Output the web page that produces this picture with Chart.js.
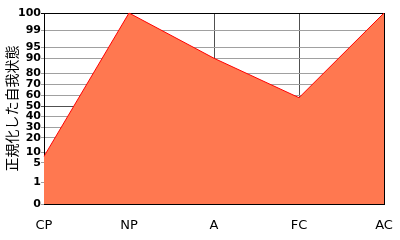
<!DOCTYPE html>
<html>
<head>
<meta charset="utf-8">
<script src="https://cdn.jsdelivr.net/npm/chart.js@4.4.1/dist/chart.umd.min.js"></script>
<style>
  html, body { margin: 0; padding: 0; background: #fff; }
  #wrap { width: 400px; height: 240px; }
</style>
</head>
<body>
<div id="wrap"><canvas id="egoChart"></canvas></div>
<script>
const categories = ['CP', 'NP', 'A', 'FC', 'AC'];
const egoValues = [8, 100, 90, 58, 100];
const tickValues = [0, 1, 5, 10, 20, 30, 40, 50, 60, 70, 80, 90, 95, 99, 100];
const tickLabels = ['0', '1', '5', '10', '20', '30', '40', '50', '60', '70', '80', '90', '95', '99', '100'];
const axisTitle = '正規化した自我状態';

// where each tick sits on the normalized axis (0 = bottom, 1 = top)
const tickFractions = [0, 0.115, 0.215, 0.272, 0.346, 0.403, 0.458, 0.511, 0.568, 0.626, 0.683, 0.763, 0.821, 0.909, 1];

function toFrac(v) {
  for (let i = 1; i < tickValues.length; i++) {
    if (v <= tickValues[i]) {
      const t = (v - tickValues[i - 1]) / (tickValues[i] - tickValues[i - 1]);
      return tickFractions[i - 1] + t * (tickFractions[i] - tickFractions[i - 1]);
    }
  }
  return 1;
}

function fromFrac(f) {
  for (let i = 1; i < tickFractions.length; i++) {
    if (f <= tickFractions[i]) {
      const t = (f - tickFractions[i - 1]) / (tickFractions[i] - tickFractions[i - 1]);
      return tickValues[i - 1] + t * (tickValues[i] - tickValues[i - 1]);
    }
  }
  return 100;
}

class NormScale extends Chart.LinearScale {
  determineDataLimits() {
    this.min = 0;
    this.max = 100;
  }
  buildTicks() {
    return tickValues.map(v => ({ value: v }));
  }
  getPixelForValue(value) {
    return this.getPixelForDecimal(toFrac(value));
  }
  getValueForPixel(pixel) {
    return fromFrac(this.getDecimalForPixel(pixel));
  }
}
NormScale.id = 'normalized';
NormScale.defaults = {};
Chart.register(NormScale);

const ctx = document.getElementById('egoChart').getContext('2d');
const egoChart = new Chart(ctx, {
  type: 'line',
  data: {
    labels: categories,
    datasets: [{
      data: egoValues,
      borderColor: '#FF0000',
      borderWidth: 1,
      backgroundColor: '#FF7850',
      fill: 'origin',
      tension: 0,
      pointRadius: 0
    }]
  },
  options: {
    responsive: true,
    maintainAspectRatio: false,
    animation: false,
    layout: { padding: { top: 13, right: 16, left: 0, bottom: 0 } },
    plugins: {
      legend: { display: false },
      tooltip: { enabled: false }
    },
    scales: {
      x: {
        offset: false,
        afterFit: scale => { scale.height = 36; },
        grid: {
          color: c => c.index === categories.length - 1 ? '#000' : '#505050',
          lineWidth: 1,
          drawTicks: true,
          tickLength: 14,
          tickColor: 'rgba(0,0,0,0)'
        },
        border: { color: '#000', width: 1 },
        ticks: {
          padding: 0,
          color: '#000',
          font: { family: 'DejaVu Sans', size: 13 }
        }
      },
      y: {
        type: 'normalized',
        afterFit: scale => { scale.width = 44; },
        grid: {
          color: c => {
            const v = c.tick ? c.tick.value : 0;
            if (v === 100) return '#000';
            if (v === 50) return '#505050';
            return '#A0A0A0';
          },
          lineWidth: 1,
          tickLength: 3
        },
        border: { color: '#000', width: 1 },
        ticks: {
          autoSkip: false,
          padding: 0,
          color: '#000',
          font: { family: 'DejaVu Sans', size: 11, weight: 'bold' },
          callback: (v, i) => tickLabels[i]
        },
        title: {
          display: true,
          text: axisTitle,
          color: '#000',
          padding: { top: 3, bottom: 0 },
          font: { family: 'Noto Sans CJK JP', size: 14 }
        }
      }
    }
  }
});
</script>
</body>
</html>
